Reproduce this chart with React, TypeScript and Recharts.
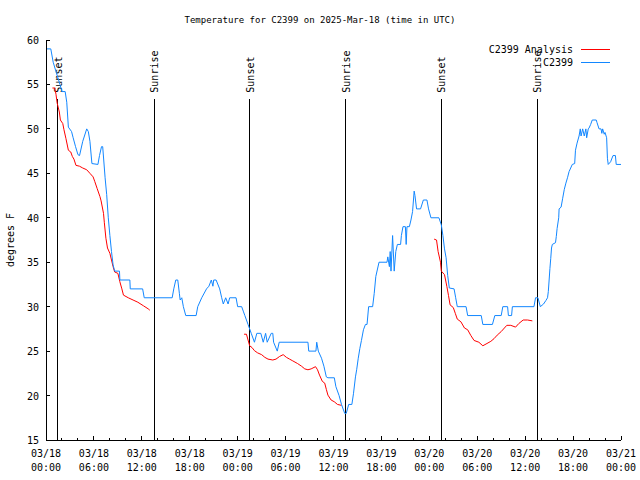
import { LineChart, Line, XAxis, YAxis, ReferenceLine, Legend, Label } from "recharts";

const FONT = "'DejaVu Sans Mono', 'Liberation Mono', monospace";
const RED = "#ff0000";
const BLUE = "#1287ff";
const TITLE = "Temperature for C2399 on 2025-Mar-18 (time in UTC)";

// hours after 03/18 00:00 UTC, degrees F
const obsC2399: [number, number][] = [
  [0, 59], [0.6, 59], [0.9, 57.5], [1.3, 56.3], [1.75, 55], [2.0, 54.2], [2.4, 54.2],
  [2.6, 53], [2.8, 50.2], [3.2, 49.7], [3.4, 49], [3.7, 48], [4.0, 47.1], [4.2, 47],
  [4.6, 48.6], [5.1, 50], [5.3, 49.7], [5.5, 48.6], [5.75, 46.1], [6.5, 46], [6.7, 47],
  [6.95, 48], [7.1, 48], [7.4, 44.5], [7.6, 42.6], [7.8, 40], [8.0, 38], [8.2, 36.2],
  [8.4, 34.7], [8.6, 34], [9.2, 34], [9.25, 33], [10.5, 33], [10.55, 32], [12.1, 32],
  [12.3, 31], [15.8, 31], [16.0, 32], [16.25, 33], [16.5, 33], [16.7, 31.5], [16.8, 30.75],
  [17.0, 31], [17.2, 30], [17.5, 29], [18.8, 29], [19.0, 30], [19.5, 31], [20.1, 32],
  [20.4, 32.3], [20.7, 33], [20.9, 32.3], [21.0, 33], [21.3, 33], [21.75, 32], [22.0, 31],
  [22.2, 30.3], [22.5, 31], [22.8, 30.3], [23.0, 31], [23.8, 31], [24.0, 30], [24.5, 30],
  [24.7, 29.5], [24.9, 29], [25.3, 28], [25.7, 27], [26.1, 26], [26.4, 27], [26.9, 27],
  [27.2, 26], [27.5, 27], [27.7, 26], [28.2, 27], [28.4, 27], [28.5, 26], [28.96, 25],
  [29.2, 26], [32.8, 26], [32.9, 25], [33.8, 25], [33.9, 26], [34.1, 25], [34.5, 24.2],
  [34.8, 23.3], [35.1, 22.1], [35.3, 22], [36.1, 22], [36.3, 21], [36.7, 20], [37.0, 19],
  [37.4, 18], [37.6, 18], [37.9, 19], [38.3, 19], [38.5, 20.2], [38.75, 22.1], [38.9, 22.9],
  [39.1, 24.2], [39.3, 25.3], [39.5, 26.2], [39.75, 27.4], [40.0, 28], [40.2, 28], [40.4, 30],
  [40.9, 30], [41.1, 31.5], [41.3, 33.4], [41.7, 35], [42.7, 35], [42.8, 35.6], [43.0, 34.5],
  [43.1, 36.2], [43.2, 34], [43.4, 38], [43.6, 34], [43.8, 36.2], [44.0, 37], [44.4, 37],
  [44.5, 38], [44.7, 39], [45.0, 39], [45.1, 37], [45.2, 39], [45.5, 39], [45.7, 39.75],
  [45.9, 40.7], [46.1, 43], [46.2, 42.5], [46.4, 41], [46.9, 41], [47.25, 42], [47.7, 42],
  [47.9, 41], [48.2, 40], [49.2, 40], [49.5, 39.2], [49.7, 38], [49.9, 36.5], [50.1, 35.5],
  [50.3, 33.5], [50.5, 32.1], [51.1, 32], [51.3, 31], [51.5, 30], [52.6, 30], [52.8, 29],
  [54.5, 29], [54.7, 28], [55.9, 28], [56.2, 29], [57.0, 29], [57.2, 30], [57.8, 30],
  [57.9, 29], [58.3, 29], [58.4, 30], [61.1, 30], [61.3, 31], [61.6, 31], [61.9, 30],
  [62.3, 30.3], [62.6, 30.7], [62.8, 31], [62.9, 31.7], [63.0, 33], [63.1, 34.3],
  [63.2, 35.4], [63.3, 36.6], [63.4, 37], [63.8, 37.2], [63.9, 37.9], [64.0, 38.8],
  [64.2, 40], [64.25, 41], [64.5, 41.2], [64.7, 42.2], [64.9, 43.2], [65.1, 43.9],
  [65.3, 44.5], [65.5, 45.2], [65.7, 45.6], [65.9, 46], [66.2, 46.1], [66.3, 47.6],
  [66.5, 48.4], [66.75, 49.2], [66.9, 50], [67.0, 49.2], [67.2, 50], [67.4, 49.2],
  [67.6, 50], [67.7, 49], [67.9, 50], [68.0, 50.1], [68.2, 50.5], [68.4, 51], [68.9, 51],
  [69.0, 50.7], [69.25, 50], [69.5, 50], [69.6, 49.5], [69.7, 50], [69.9, 49.4],
  [70.0, 49.6], [70.2, 49], [70.3, 46.7], [70.4, 46], [70.7, 46.3], [71.0, 47], [71.3, 47],
  [71.4, 46], [72.0, 46],
];

const analysisRun1: [number, number][] = [
  [0.8, 54.6], [1.1, 54.6], [1.25, 53.9], [1.4, 52.9], [1.67, 51.9], [1.8, 51], [2.1, 50.6],
  [2.25, 49.9], [2.5, 48.9], [2.8, 47.6], [3.1, 47.4], [3.3, 46.9], [3.5, 46.6], [3.75, 45.9],
  [4.2, 45.8], [4.6, 45.6], [5.1, 45.4], [5.5, 45], [5.9, 44.6], [6.1, 44.1], [6.4, 43.3],
  [6.75, 42.4], [6.9, 41.9], [7.2, 40.5], [7.3, 39.5], [7.5, 37.7], [7.7, 36.6], [8.0, 36],
  [8.2, 35.25], [8.4, 34.5], [8.6, 33.9], [9.0, 33.75], [9.25, 32.8], [9.5, 32], [9.7, 31.3],
  [10.3, 31], [10.9, 30.75], [11.5, 30.5], [12.2, 30.1], [12.8, 29.75], [13.0, 29.6],
];

const analysisRun2: [number, number][] = [
  [24.8, 26.9], [25.1, 26.9], [25.3, 26.25], [25.5, 25.6], [25.8, 25.4], [26.1, 25.05],
  [26.5, 24.8], [27.0, 24.6], [27.4, 24.3], [27.8, 24.1], [28.4, 24], [28.8, 24.1],
  [29.25, 24.4], [29.7, 24.6], [30.1, 24.3], [30.5, 24.1], [30.9, 23.9], [31.5, 23.6],
  [32.0, 23.3], [32.4, 23.0], [32.8, 22.9], [33.2, 23.0], [33.75, 23.25], [34.0, 22.9],
  [34.25, 22.3], [34.6, 21.6], [34.9, 21.4], [35.1, 20.7], [35.3, 20.05], [35.7, 19.5],
  [36.1, 19.3], [36.5, 19.0], [37.0, 18.9],
];

const analysisRun3: [number, number][] = [
  [48.6, 37.6], [48.9, 37.5], [49.1, 36.2], [49.4, 35], [49.5, 34], [49.9, 33.6],
  [50.2, 32.25], [50.4, 31.25], [50.6, 30.2], [51.0, 29.9], [51.25, 29.25], [51.5, 28.6],
  [51.95, 28.3], [52.4, 27.6], [52.8, 27.4], [53.2, 26.75], [53.6, 26.2], [54.2, 26],
  [54.7, 25.6], [55.1, 25.8], [55.7, 26.1], [56.1, 26.4], [56.5, 26.8], [57.0, 27.2],
  [57.4, 27.6], [57.7, 27.9], [58.2, 27.9], [58.8, 27.7], [59.2, 28.1], [59.75, 28.5],
  [60.3, 28.5], [60.9, 28.4],
];

const sunsets = [1.5, 25.5, 49.5];
const sunrises = [13.55, 37.55, 61.5];

const xTicks = [0, 2, 4, 6, 8, 10, 12, 14, 16, 18, 20, 22, 24, 26, 28, 30, 32, 34, 36,
  38, 40, 42, 44, 46, 48, 50, 52, 54, 56, 58, 60, 62, 64, 66, 68, 70, 72];
const yTicks = [15, 20, 25, 30, 35, 40, 45, 50, 55, 60];

const obsData = obsC2399.map(([h, t]) => ({ h, t }));
const analysisData = [
  ...analysisRun1.map(([h, t]) => ({ h, t })),
  { h: 18, t: null },
  ...analysisRun2.map(([h, t]) => ({ h, t })),
  { h: 42, t: null },
  ...analysisRun3.map(([h, t]) => ({ h, t })),
];

const txt = { fontFamily: FONT, fontSize: 10, fill: "#000" };
const crisp = { shapeRendering: "crispEdges" as const };

function dateLines(h: number) {
  const day = 18 + Math.floor(h / 24);
  const hr = h % 24;
  return [`03/${day}`, `${String(hr).padStart(2, "0")}:00`];
}

function BottomTick({ x, y, payload }: any) {
  const h = payload.value;
  const major = h % 6 === 0;
  const [d, t] = dateLines(h);
  return (
    <g>
      <line x1={x} x2={x} y1={y} y2={y - (major ? 4 : 2)} stroke="#000" {...crisp} />
      {major && (
        <text x={x} y={y} textAnchor="middle" {...txt}>
          <tspan x={x} dy={17}>{d}</tspan>
          <tspan x={x} dy={14}>{t}</tspan>
        </text>
      )}
    </g>
  );
}

function TopTick({ x, y, payload }: any) {
  const major = payload.value % 6 === 0;
  return <line x1={x} x2={x} y1={y} y2={y + (major ? 4 : 2)} stroke="#000" {...crisp} />;
}

function LeftTick({ x, y, payload }: any) {
  return (
    <g>
      <line x1={x} x2={x + 4} y1={y} y2={y} stroke="#000" {...crisp} />
      <text x={x - 7} y={y} dy={4} textAnchor="end" {...txt}>{payload.value}</text>
    </g>
  );
}

function RightTick({ x, y }: any) {
  return <line x1={x} x2={x - 4} y1={y} y2={y} stroke="#000" {...crisp} />;
}

const sunLabel = (name: string) => (props: any) => {
  const vb = props.viewBox || {};
  const x = vb.x ?? vb.x1 ?? 0;
  const y = vb.y ?? Math.min(vb.y1 ?? 0, vb.y2 ?? 0);
  return (
    <text transform={`translate(${x + 4},${y - 6}) rotate(-90)`} textAnchor="start" {...txt}>
      {name}
    </text>
  );
};

function KeyBox() {
  return (
    <svg width={640} height={80} style={{ display: "block" }}>
      <text x={320} y={23} textAnchor="middle" {...txt} fontSize={9}>{TITLE}</text>
      <text x={573} y={53} textAnchor="end" {...txt}>C2399 Analysis</text>
      <line x1={581} x2={610} y1={49.5} y2={49.5} stroke={RED} />
      <text x={573} y={66} textAnchor="end" {...txt}>C2399</text>
      <line x1={581} x2={610} y1={62.5} y2={62.5} stroke={BLUE} />
    </svg>
  );
}

export default function App() {
  return (
    <div style={{ position: "absolute", left: 0, top: 0, background: "#fff", fontFamily: FONT }}>
      <LineChart width={640} height={480} margin={{ top: 40, right: 19, bottom: 0, left: 0 }}>
        <XAxis
          dataKey="h"
          type="number"
          domain={[0, 72]}
          ticks={xTicks}
          interval={0}
          allowDataOverflow
          height={40}
          tickSize={0}
          tickMargin={0}
          tickLine={false}
          axisLine={{ stroke: "#000", ...crisp }}
          tick={<BottomTick />}
        />
        <XAxis
          xAxisId="top"
          orientation="top"
          type="number"
          domain={[0, 72]}
          ticks={xTicks}
          interval={0}
          allowDataOverflow
          height={0}
          tickSize={0}
          tickMargin={0}
          tickLine={false}
          axisLine={{ stroke: "#000", ...crisp }}
          tick={<TopTick />}
        />
        <YAxis
          type="number"
          domain={[15, 60]}
          ticks={yTicks}
          interval={0}
          allowDataOverflow
          width={46}
          tickSize={0}
          tickMargin={0}
          tickLine={false}
          axisLine={{ stroke: "#000", ...crisp }}
          tick={<LeftTick />}
        >
          <Label value="degrees F" angle={-90} position="center" dx={-13} {...txt} />
        </YAxis>
        <YAxis
          yAxisId="right"
          orientation="right"
          type="number"
          domain={[15, 60]}
          ticks={yTicks}
          interval={0}
          allowDataOverflow
          width={0}
          tickSize={0}
          tickMargin={0}
          tickLine={false}
          axisLine={{ stroke: "#000", ...crisp }}
          tick={<RightTick />}
        />
        {sunsets.map((h) => (
          <ReferenceLine
            key={`ss${h}`}
            segment={[{ x: h, y: 15 }, { x: h, y: 53.4 }]}
            stroke="#000"
            strokeWidth={1}
            {...crisp}
            label={sunLabel("Sunset")}
          />
        ))}
        {sunrises.map((h) => (
          <ReferenceLine
            key={`sr${h}`}
            segment={[{ x: h, y: 15 }, { x: h, y: 53.4 }]}
            stroke="#000"
            strokeWidth={1}
            {...crisp}
            label={sunLabel("Sunrise")}
          />
        ))}
        <Line
          data={analysisData}
          dataKey="t"
          name="C2399 Analysis"
          stroke={RED}
          strokeWidth={1}
          dot={false}
          activeDot={false}
          connectNulls={false}
          isAnimationActive={false}
        />
        <Line
          data={obsData}
          dataKey="t"
          name="C2399"
          stroke={BLUE}
          strokeWidth={1}
          dot={false}
          activeDot={false}
          isAnimationActive={false}
        />
        <Legend
          layout="horizontal"
          verticalAlign="middle"
          align="center"
          wrapperStyle={{ left: 0, top: 0, width: 640, height: 80, pointerEvents: "none" }}
          content={() => <KeyBox />}
        />
      </LineChart>
    </div>
  );
}
